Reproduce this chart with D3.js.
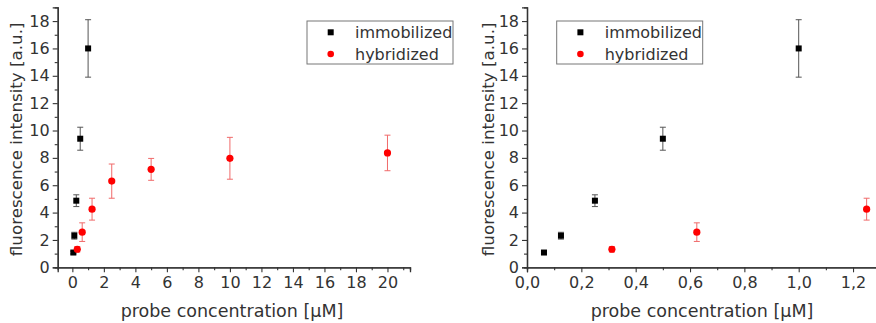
<!DOCTYPE html>
<html>
<head>
<meta charset="utf-8">
<script src="https://cdn.jsdelivr.net/npm/d3@7"></script>
<style>
  body { margin: 0; background: #fff; }
  svg { display: block; font-family: "DejaVu Sans", sans-serif; }
</style>
</head>
<body>
<div id="chart"></div>
<script>
// immobilized probe (black squares)
const immoX = [0.0625, 0.125, 0.25, 0.5, 1.0];
const immoY = [1.08, 2.31, 4.87, 9.4, 16.0];
const immoErr = [0.1, 0.25, 0.43, 0.84, 2.1];

// hybridized (red circles)
const hybX = [0.3125, 0.625, 1.25, 2.5, 5, 10, 20];
const hybY = [1.32, 2.57, 4.25, 6.3, 7.16, 7.97, 8.36];
const hybErr = [0.2, 0.68, 0.8, 1.25, 0.8, 1.53, 1.3];

const yTicks = [0, 2, 4, 6, 8, 10, 12, 14, 16, 18];
const leftXTicks = [0, 2, 4, 6, 8, 10, 12, 14, 16, 18, 20];
const rightXTicks = [0, 0.2, 0.4, 0.6, 0.8, 1.0, 1.2];

const legendNames = ['immobilized', 'hybridized'];

const W = 876, H = 323;
const svg = d3.select('#chart').append('svg')
  .attr('width', W)
  .attr('height', H);

const commaFmt = d => d3.format('.1f')(d).replace('.', ',');

function drawPanel(opts) {
  const x = d3.scaleLinear().domain(opts.xDomain).range(opts.xRange);
  const y = d3.scaleLinear().domain([0, 19]).range([267.3, 7.4]);
  const g = svg.append('g');

  // minor ticks first, then major
  const xMinor = d3.axisBottom(x).tickValues(opts.xMinor).tickSize(3).tickFormat('');
  const xMajor = d3.axisBottom(x).tickValues(opts.xTicks).tickSize(5).tickPadding(4).tickFormat(opts.fmt);
  const yMinor = d3.axisLeft(y).tickValues(d3.range(1, 19, 2)).tickSize(3).tickFormat('');
  const yMajor = d3.axisLeft(y).tickValues(yTicks).tickSize(5).tickPadding(3).tickFormat(d3.format('d'));

  [xMinor, xMajor].forEach(a => {
    g.append('g').attr('transform', `translate(0,${y(0)})`).call(a);
  });
  [yMinor, yMajor].forEach(a => {
    g.append('g').attr('transform', `translate(${x(opts.xDomain[0])},0)`).call(a);
  });
  g.selectAll('.domain').attr('stroke', '#333').attr('stroke-width', 1.3);
  g.selectAll('.tick line').attr('stroke', '#333').attr('stroke-width', 1.1);
  g.selectAll('.tick text')
    .attr('font-family', '"DejaVu Sans", sans-serif')
    .attr('font-size', 16)
    .attr('fill', '#333');

  // axis titles
  g.append('text')
    .attr('x', opts.xTitleX)
    .attr('y', 317)
    .attr('text-anchor', 'middle')
    .attr('font-size', 17.5)
    .attr('fill', '#333')
    .text('probe concentration [µM]');
  g.append('text')
    .attr('transform', `translate(${opts.yTitleX},${(y(0) + y(19)) / 2 + 2}) rotate(-90)`)
    .attr('text-anchor', 'middle')
    .attr('font-size', 16.7)
    .attr('fill', '#333')
    .text('fluorescence intensity [a.u.]');

  const plot = g.append('g');

  function errorBars(xs, ys, es, color) {
    const data = xs.map((d, i) => ({x: d, y: ys[i], e: es[i]}))
      .filter(d => d.x >= opts.xDomain[0] && d.x <= opts.xDomain[1]);
    const eb = plot.selectAll(null).data(data).enter().append('g')
      .attr('stroke', color).attr('stroke-width', 1);
    eb.append('line')
      .attr('x1', d => x(d.x)).attr('x2', d => x(d.x))
      .attr('y1', d => y(d.y - d.e)).attr('y2', d => y(d.y + d.e));
    eb.append('line')
      .attr('x1', d => x(d.x) - 3).attr('x2', d => x(d.x) + 3)
      .attr('y1', d => y(d.y + d.e)).attr('y2', d => y(d.y + d.e));
    eb.append('line')
      .attr('x1', d => x(d.x) - 3).attr('x2', d => x(d.x) + 3)
      .attr('y1', d => y(d.y - d.e)).attr('y2', d => y(d.y - d.e));
    return data;
  }

  const immo = errorBars(immoX, immoY, immoErr, '#555');
  const hyb = errorBars(hybX, hybY, hybErr, '#f06a6a');

  plot.selectAll('.sq').data(immo).enter().append('rect')
    .attr('class', 'sq')
    .attr('x', d => x(d.x) - 3).attr('y', d => y(d.y) - 3)
    .attr('width', 6).attr('height', 6)
    .attr('fill', '#000');
  plot.selectAll('.ci').data(hyb).enter().append('circle')
    .attr('class', 'ci')
    .attr('cx', d => x(d.x)).attr('cy', d => y(d.y))
    .attr('r', 3.6)
    .attr('fill', '#f00');

  // legend
  const lg = g.append('g').attr('transform', `translate(${opts.legendX},21)`);
  lg.append('rect')
    .attr('x', 0).attr('y', 0).attr('width', 146).attr('height', 43)
    .attr('fill', '#fff').attr('stroke', '#777').attr('stroke-width', 1);
  lg.append('rect').attr('x', 20.7).attr('y', 8.3).attr('width', 6).attr('height', 6).attr('fill', '#000');
  lg.append('circle').attr('cx', 23.7).attr('cy', 33).attr('r', 3.3).attr('fill', '#f00');
  lg.selectAll('.lt').data(legendNames).enter().append('text')
    .attr('class', 'lt')
    .attr('x', 48)
    .attr('y', (d, i) => 17 + i * 21.5)
    .attr('font-size', 16)
    .attr('fill', '#333')
    .text(d => d);
}

drawPanel({
  xDomain: [-0.93, 21.43],
  xRange: [57.7, 410],
  xTicks: leftXTicks,
  xMinor: d3.range(1, 22, 2),
  fmt: d3.format('d'),
  xTitleX: 232,
  yTitleX: 22,
  legendX: 307
});

drawPanel({
  xDomain: [0, 1.3],
  xRange: [527, 527 + 1.3 * 271.7],
  xTicks: rightXTicks,
  xMinor: [0.1, 0.3, 0.5, 0.7, 0.9, 1.1],
  fmt: commaFmt,
  xTitleX: 702,
  yTitleX: 494,
  legendX: 556.7
});
</script>
</body>
</html>
